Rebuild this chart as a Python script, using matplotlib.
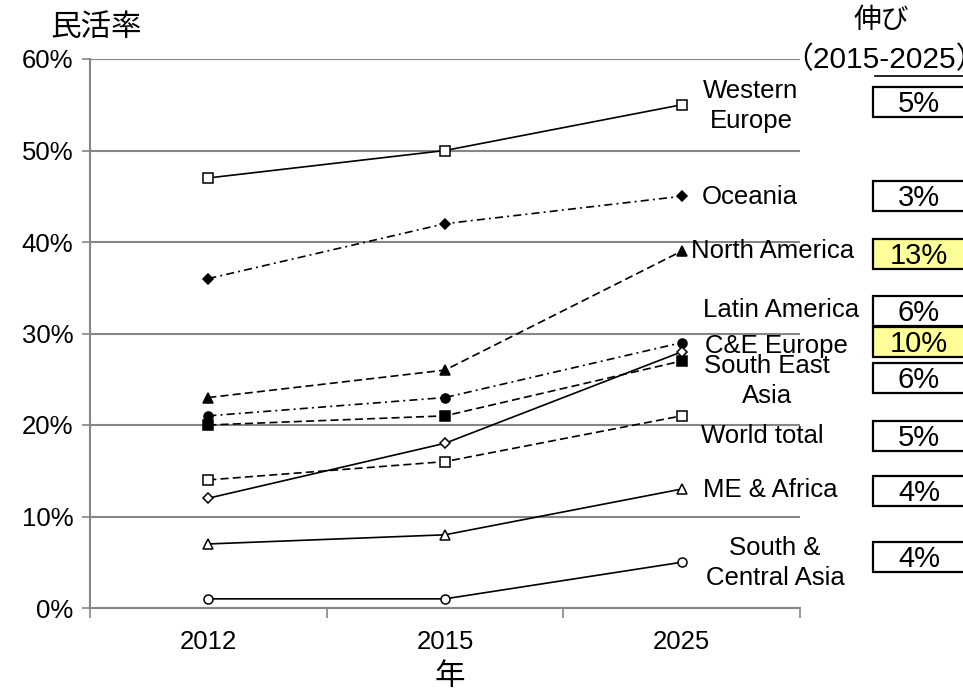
import matplotlib
matplotlib.use("Agg")
import matplotlib.pyplot as plt
from matplotlib.patches import Rectangle
from matplotlib.lines import Line2D

plt.rcParams['font.family'] = ['Liberation Sans', 'Noto Sans CJK JP']
plt.rcParams['lines.scale_dashes'] = False

# data
years = ['2012', '2015', '2025']
western_europe = [47, 50, 55]
oceania = [36, 42, 45]
north_america = [23, 26, 39]
latin_america = [21, 23, 29]
south_east_asia = [20, 21, 27]
ce_europe = [12, 18, 28]
world_total = [14, 16, 21]
me_africa = [7, 8, 13]
south_central_asia = [1, 1, 5]

growth_labels = ['5%', '3%', '13%', '6%', '10%', '6%', '5%', '4%', '4%']
growth_highlight = [False, False, True, False, True, False, False, False, False]

W, H = 963, 693
FS = 18.5
fig = plt.figure(figsize=(W / 100, H / 100), dpi=100)
ax = fig.add_axes([90 / W, 1 - 608 / H, 710 / W, 549 / H])


def px(x):
    return x / W


def py(y):
    return 1 - y / H


xs = [0.5, 1.5, 2.5]
dash = (5.8, 3.0)
dashdot = (5.8, 3.0, 1.4, 3.0)

# (values, dashes or None, marker, filled)
series = [
    (western_europe, None, 's', False),
    (oceania, dashdot, 'D', True),
    (north_america, dash, '^', True),
    (latin_america, dashdot, 'o', True),
    (south_east_asia, dash, 's', True),
    (ce_europe, None, 'D', False),
    (world_total, dash, 's', False),
    (me_africa, None, '^', False),
    (south_central_asia, None, 'o', False),
]
for vals, ds, mk, filled in series:
    ms = 6.5 if mk != 'D' else 5.5
    line, = ax.plot(xs, vals, color='black', lw=1.2, marker=mk, ms=ms,
                    mfc='black' if filled else 'white', mec='black', mew=1.1,
                    zorder=3)
    if ds is not None:
        line.set_dashes(ds)

ax.set_xlim(0, 3)
ax.set_ylim(0, 60)
ax.set_yticks(range(0, 61, 10))
ax.set_yticklabels([f'{v}%' for v in range(0, 61, 10)], fontsize=FS)
ax.set_xticks([0, 1, 2, 3])
ax.set_xticklabels([])
ax.set_xticks(xs, minor=True)
ax.set_xticklabels(years, minor=True, fontsize=FS)
ax.tick_params(axis='x', which='major', length=7, color='#868686', width=1.2)
ax.tick_params(axis='x', which='minor', length=0, pad=16)
ax.tick_params(axis='y', length=6, color='#868686', width=1.2, pad=6)
ax.grid(axis='y', color='#868686', lw=1.5)
ax.set_axisbelow(True)
for s in ['top', 'right']:
    ax.spines[s].set_visible(False)
for s in ['left', 'bottom']:
    ax.spines[s].set_color('#868686')
    ax.spines[s].set_linewidth(1.5)

# region labels next to the 2025 points
labels = [
    ('Western\nEurope', 751, 106, 'center'),
    ('Oceania', 702, 197, 'left'),
    ('North America', 691, 251, 'left'),
    ('Latin America', 703, 310, 'left'),
    ('C&E Europe', 705, 346, 'left'),
    ('South East\nAsia', 767, 381, 'center'),
    ('World total', 701, 436, 'left'),
    ('ME & Africa', 703, 490, 'left'),
    ('South &\nCentral Asia', 775, 563, 'center'),
]
for txt, x, y, ha in labels:
    fig.text(px(x), py(y), txt, ha=ha, va='center', fontsize=FS,
             multialignment='center', linespacing=1.3)

# growth boxes
box_centers = [102, 196, 254, 311, 342, 378, 436, 491, 557]
for lab, hl, yc in zip(growth_labels, growth_highlight, box_centers):
    fig.patches.append(Rectangle((px(873), py(yc + 15)), px(110), 30 / H,
                                 transform=fig.transFigure,
                                 facecolor='#FFFF99' if hl else 'white',
                                 edgecolor='black', lw=1.6))
    fig.text(px(919), py(yc + 2), lab, ha='center', va='center', fontsize=21)

fig.text(px(881), py(21), '伸び', ha='center', va='center', fontsize=20)
fig.text(px(783), py(60), '（2015-2025）', ha='left', va='center', fontsize=21.5)
fig.lines.append(Line2D([px(875), px(963)], [py(76), py(76)],
                        transform=fig.transFigure, color='black', lw=1.2))

fig.text(px(96), py(28), '民活率', ha='center', va='center', fontsize=22)
fig.text(px(450), py(677), '年', ha='center', va='center', fontsize=22)

fig.savefig('out.png', dpi=100)
